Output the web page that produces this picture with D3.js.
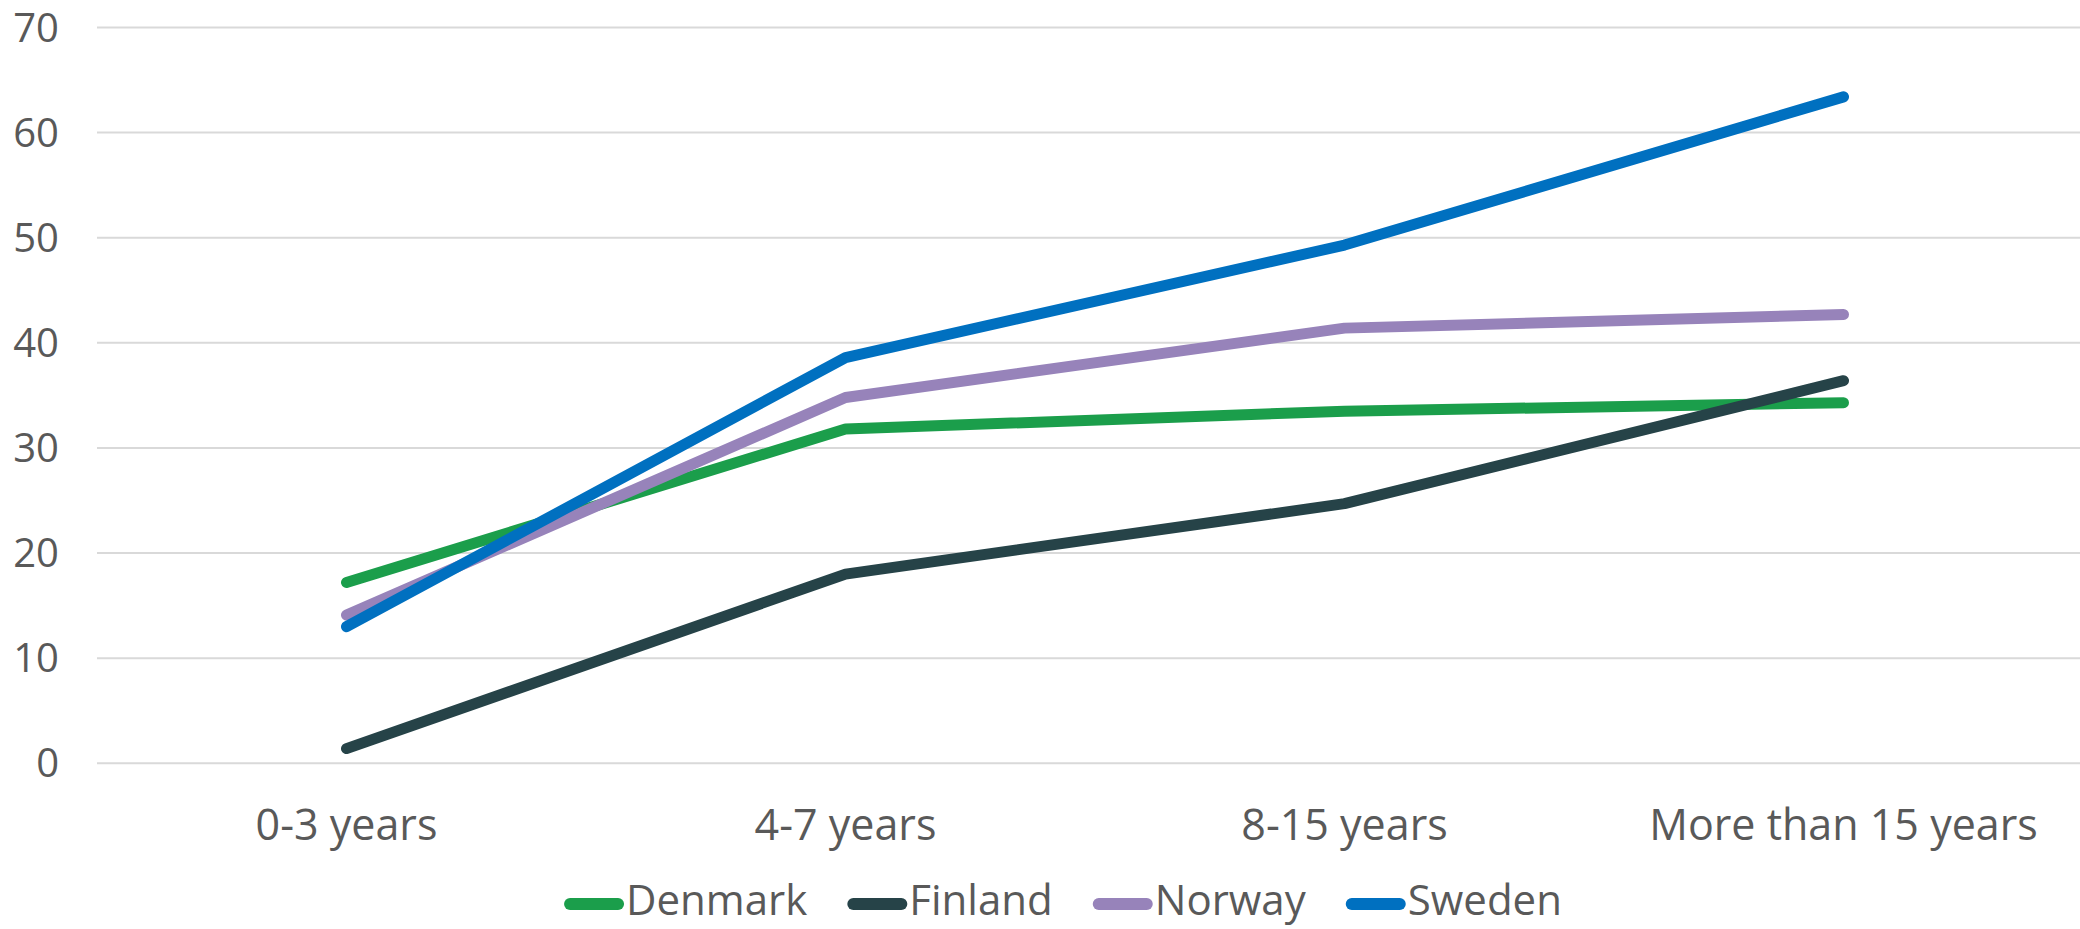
<!DOCTYPE html>
<html>
<head>
<meta charset="utf-8">
<script src="https://cdn.jsdelivr.net/npm/d3@7"></script>
<style>
  html, body { margin: 0; padding: 0; background: #ffffff; }
  svg text { font-family: "Open Sans", "Noto Sans", sans-serif; fill: #595959; }
</style>
</head>
<body>
<svg id="chart" width="2080" height="929"></svg>
<script>
const categories = ["0-3 years", "4-7 years", "8-15 years", "More than 15 years"];
const seriesNames = ["Denmark", "Finland", "Norway", "Sweden"];
const denmark = [17.2, 31.8, 33.5, 34.3];
const finland = [1.4, 18.0, 24.7, 36.4];
const norway  = [14.1, 34.8, 41.4, 42.7];
const sweden  = [13.0, 38.6, 49.3, 63.4];
const yTicks = [0, 10, 20, 30, 40, 50, 60, 70];
const colors = ["#1b9e4b", "#264348", "#9783ba", "#0070c0"];

const series = [denmark, finland, norway, sweden];

const svg = d3.select("#chart");
const W = 2080, H = 929;
const plotLeft = 97, plotRight = 2093, plotTop = 27.5, plotBottom = 763.3;

const x = d3.scaleBand().domain(categories).range([plotLeft, plotRight]).padding(0);
const y = d3.scaleLinear().domain([0, 70]).range([plotBottom, plotTop]);

// gridlines
svg.append("g").selectAll("line").data(yTicks).join("line")
  .attr("x1", plotLeft).attr("x2", Math.min(plotRight, W))
  .attr("y1", d => y(d)).attr("y2", d => y(d))
  .attr("stroke", "#d9d9d9").attr("stroke-width", 2);

// y axis labels
const yAxis = d3.axisLeft(y).tickValues(yTicks).tickSize(0).tickPadding(0);
const gy = svg.append("g").attr("transform", "translate(59,0)").call(yAxis);
gy.select(".domain").remove();
gy.selectAll("text")
  .attr("font-size", 40)
  .attr("dy", null)
  .attr("dominant-baseline", "central")
  .attr("y", -2)
  .style("fill", "#595959")
  .style("font-family", "'Open Sans', sans-serif");

// x axis labels
const xAxis = d3.axisBottom(x).tickSize(0).tickPadding(0);
const gx = svg.append("g").attr("transform", "translate(0,0)").call(xAxis);
gx.select(".domain").remove();
gx.selectAll("text")
  .attr("font-size", 43)
  .attr("dy", null)
  .attr("y", 840)
  .style("fill", "#595959")
  .style("font-family", "'Open Sans', sans-serif");

// lines
const line = d3.line()
  .x((d, i) => x(categories[i]) + x.bandwidth() / 2)
  .y(d => y(d));

svg.append("g").selectAll("path").data(series).join("path")
  .attr("d", d => line(d))
  .attr("fill", "none")
  .attr("stroke", (d, i) => colors[i])
  .attr("stroke-width", 11)
  .attr("stroke-linecap", "round")
  .attr("stroke-linejoin", "round");

// legend
const legend = svg.append("g");
const swatchW = 48, capR = 6, textGap = 2, itemGap = 40, legendY = 904, legendBase = 915;
const items = legend.selectAll("g").data(seriesNames).join("g");
items.append("line")
  .attr("x1", capR).attr("x2", capR + swatchW)
  .attr("y1", legendY).attr("y2", legendY)
  .attr("stroke", (d, i) => colors[i])
  .attr("stroke-width", 12)
  .attr("stroke-linecap", "round");
items.append("text")
  .attr("x", capR * 2 + swatchW + textGap)
  .attr("y", legendBase)
  .attr("font-size", 42)
  .text(d => d);
let offsets = [], cur = 0;
items.each(function() {
  offsets.push(cur);
  const tw = d3.select(this).select("text").node().getComputedTextLength();
  cur += capR * 2 + swatchW + textGap + tw + itemGap;
});
const total = cur - itemGap;
const start = 1063 - total / 2;
items.attr("transform", (d, i) => `translate(${start + offsets[i]},0)`);
</script>
</body>
</html>
